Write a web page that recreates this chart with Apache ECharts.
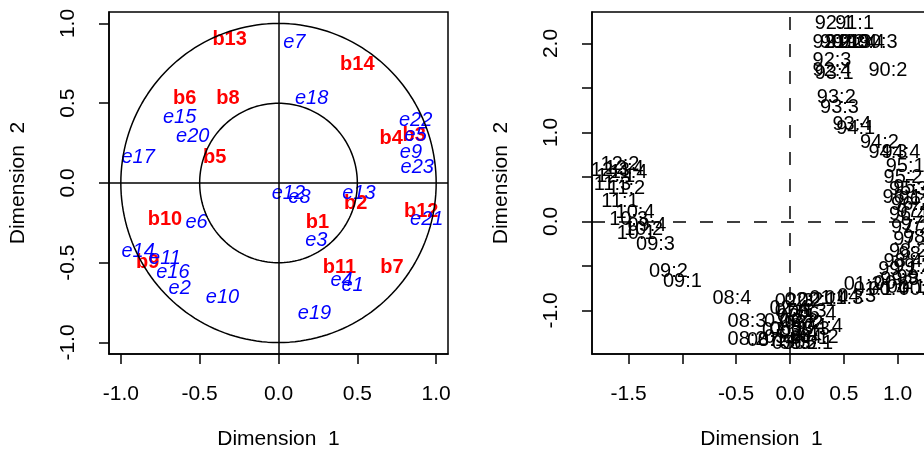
<!DOCTYPE html>
<html>
<head>
  <meta charset="UTF-8">
  <title>MCA</title>
  <style>
    html, body { margin: 0; padding: 0; background: #fff; overflow: hidden; }
    #main { width: 960px; height: 457px; }
  </style>
</head>
<body>
  <div id="main"></div>
</body>
<script src="https://cdn.jsdelivr.net/npm/echarts@6/dist/echarts.min.js"></script>
<script>
  const FONT = '"Liberation Sans", Arial, sans-serif'

  // left panel: variables on the correlation circle
  const bNames = ['b1', 'b2', 'b3', 'b4', 'b5', 'b6', 'b7', 'b8', 'b9', 'b10', 'b11', 'b12', 'b13', 'b14']
  const bX = [0.247, 0.49, 0.86, 0.715, -0.405, -0.595, 0.72, -0.32, -0.83, -0.72, 0.386, 0.905, -0.31, 0.50]
  const bY = [-0.25, -0.13, 0.30, 0.28, 0.157, 0.527, -0.527, 0.527, -0.50, -0.226, -0.527, -0.18, 0.90, 0.74]

  const eNames = ['e1', 'e2', 'e3', 'e4', 'e5', 'e6', 'e7', 'e8', 'e9', 'e10', 'e11', 'e12',
    'e13', 'e14', 'e15', 'e16', 'e17', 'e18', 'e19', 'e20', 'e21', 'e22', 'e23']
  const eX = [0.47, -0.627, 0.24, 0.40, 0.87, -0.52, 0.10, 0.133, 0.84, -0.355, -0.72, 0.063,
    0.51, -0.89, -0.627, -0.67, -0.89, 0.21, 0.228, -0.544, 0.94, 0.87, 0.88]
  const eY = [-0.645, -0.66, -0.357, -0.61, 0.30, -0.25, 0.88, -0.088, 0.19, -0.715, -0.47, -0.063,
    -0.063, -0.43, 0.41, -0.56, 0.16, 0.53, -0.815, 0.29, -0.23, 0.39, 0.10]

  const circleRadii = [1, 0.5]
  const leftTicks = [-1, -0.5, 0, 0.5, 1]

  // right panel: individuals (quarters)
  const indNames = [
    '90:1', '90:2', '90:3', '90:4', '91:1', '91:2', '91:3', '91:4',
    '92:1', '92:2', '92:3', '92:4', '93:1', '93:2', '93:3', '93:4',
    '94:1', '94:2', '94:3', '94:4', '95:1', '95:2', '95:3', '95:4',
    '96:1', '96:2', '96:3', '96:4', '97:1', '97:2', '97:3', '97:4',
    '98:1', '98:2', '98:3', '98:4', '99:1', '99:2', '99:3', '99:4',
    '00:1', '00:2', '00:3', '00:4', '01:1', '01:2', '01:3', '01:4',
    '02:1', '02:2', '02:3', '02:4', '03:1', '03:2', '03:3', '03:4',
    '04:1', '04:2', '04:3', '04:4', '05:1', '05:2', '05:3', '05:4',
    '06:1', '06:2', '06:3', '06:4', '07:1', '07:2', '07:3', '07:4',
    '08:1', '08:2', '08:3', '08:4', '09:1', '09:2', '09:3', '09:4',
    '10:1', '10:2', '10:3', '10:4', '11:1', '11:2', '11:3', '11:4',
    '12:1', '12:2', '12:3', '12:4'
  ]
  const indX = [
    0.46, 0.91, 0.82, 0.70, 0.60, 0.51, 0.575, 0.63,
    0.41, 0.39, 0.39, 0.39, 0.41, 0.43, 0.46, 0.575,
    0.61, 0.83, 0.91, 1.03, 1.07, 1.05, 1.10, 1.14,
    1.04, 1.12, 1.19, 1.10, 1.17, 1.12, 1.21, 1.14,
    1.23, 1.10, 1.19, 1.05, 1.00, 1.14, 1.02, 1.17,
    1.08, 0.96, 1.19, 0.91, 0.77, 0.68, 0.50, 0.36,
    0.25, 0.13, 0.04, -0.01, 0.06, 0.13, 0.19, 0.08,
    0.18, 0.27, 0.62, 0.31, 0.22, 0.08, 0.01, -0.06,
    -0.01, 0.08, 0.16, 0.25, 0.04, -0.06, -0.08, -0.12,
    -0.22, -0.40, -0.40, -0.54, -1.00, -1.13, -1.25, -1.33,
    -1.43, -1.36, -1.50, -1.44, -1.58, -1.52, -1.65, -1.50,
    -1.62, -1.58, -1.67, -1.54
  ]
  const indY = [
    2.01, 1.70, 2.01, 2.01, 2.22, 2.01, 2.01, 2.01,
    2.22, 2.01, 1.81, 1.70, 1.66, 1.39, 1.28, 1.09,
    1.05, 0.89, 0.78, 0.77, 0.62, 0.49, 0.36, 0.38,
    0.27, 0.19, 0.25, 0.08, 0.11, -0.07, -0.03, -0.20,
    -0.18, -0.34, -0.37, -0.45, -0.54, -0.51, -0.65, -0.63,
    -0.74, -0.70, -0.76, -0.76, -0.76, -0.71, -0.87, -0.87,
    -0.89, -0.89, -0.90, -0.98, -1.07, -1.15, -1.21, -1.26,
    -1.32, -1.30, -0.84, -1.18, -1.37, -1.37, -1.37, -1.30,
    -1.21, -1.12, -1.01, -1.05, -1.01, -1.12, -1.23, -1.34,
    -1.34, -1.33, -1.13, -0.87, -0.67, -0.56, -0.26, -0.05,
    -0.13, -0.09, 0.02, 0.10, 0.22, 0.37, 0.42, 0.55,
    0.51, 0.64, 0.57, 0.60
  ]

  const rightXTicks = [-1.5, -1, -0.5, 0, 0.5, 1]
  const rightXLabels = [-1.5, -0.5, 0, 0.5, 1]
  const rightYTicks = [-1, -0.5, 0, 0.5, 1, 1.5, 2]
  const rightYLabels = [-1, 0, 1, 2]

  const myChart = echarts.init(document.getElementById('main'))

  function pts(xs, ys, names) {
    return xs.map((x, i) => ({ value: [x, ys[i]], name: names[i] }))
  }

  function circle(r) {
    let out = []
    for (let a = 0; a <= 360; a += 2) {
      let t = a * Math.PI / 180
      out.push([r * Math.cos(t), r * Math.sin(t)])
    }
    return out
  }

  function xAxisOf(idx, min, max, ticks, labels) {
    return {
      type: 'value', gridIndex: idx, min: min, max: max,
      name: 'Dimension  1', nameLocation: 'middle', nameGap: 75,
      nameTextStyle: { fontFamily: FONT, fontSize: 21, color: '#000' },
      axisLine: { show: true, onZero: false, lineStyle: { color: '#000', width: 1.5 } },
      axisTick: { show: true, inside: false, length: 10, customValues: ticks, lineStyle: { color: '#000', width: 1.5 } },
      axisLabel: { show: true, margin: 30, customValues: labels, fontFamily: FONT, fontSize: 21, color: '#000',
        formatter: v => v.toFixed(1) },
      splitLine: { show: false }
    }
  }

  function yAxisOf(idx, min, max, ticks, labels) {
    return {
      type: 'value', gridIndex: idx, min: min, max: max,
      name: 'Dimension  2', nameLocation: 'middle', nameGap: 80, nameRotate: 90,
      nameTextStyle: { fontFamily: FONT, fontSize: 21, color: '#000' },
      axisLine: { show: true, onZero: false, lineStyle: { color: '#000', width: 1.5 } },
      axisTick: { show: true, inside: false, length: 10, customValues: ticks, lineStyle: { color: '#000', width: 1.5 } },
      axisLabel: { show: true, margin: 30, rotate: 90, customValues: labels, fontFamily: FONT, fontSize: 21, color: '#000',
        formatter: v => v.toFixed(1) },
      splitLine: { show: false }
    }
  }

  function labelSeries(data, color, weight, style, xi) {
    return {
      type: 'scatter', xAxisIndex: xi, yAxisIndex: xi, silent: true,
      symbol: 'circle', symbolSize: 2, itemStyle: { color: 'rgba(0,0,0,0)', opacity: 1 },
      label: {
        show: true, position: 'inside', formatter: '{b}', opacity: 1,
        color: color, fontFamily: FONT, fontSize: 20, fontWeight: weight, fontStyle: style,
        align: 'center', verticalAlign: 'middle'
      },
      labelLayout: { hideOverlap: false },
      data: data
    }
  }

  let series = []

  circleRadii.forEach((r, i) => {
    series.push({
      type: 'line', xAxisIndex: 0, yAxisIndex: 0, silent: true,
      showSymbol: false, symbol: 'none',
      lineStyle: { color: '#000', width: 1.5 },
      data: circle(r),
      markLine: i === 0 ? {
        silent: true, symbol: ['none', 'none'], label: { show: false },
        lineStyle: { color: '#000', width: 1.5, type: 'solid' },
        data: [{ xAxis: 0 }, { yAxis: 0 }]
      } : undefined
    })
  })

  series.push(labelSeries(pts(bX, bY, bNames), '#ff0000', 'bold', 'normal', 0))
  series.push(labelSeries(pts(eX, eY, eNames), '#0000ff', 'normal', 'italic', 0))

  let right = labelSeries(pts(indX, indY, indNames), '#000', 'normal', 'normal', 1)
  right.markLine = {
    silent: true, symbol: ['none', 'none'], label: { show: false },
    lineStyle: { color: '#000', width: 1.5, type: [13, 14] },
    data: [{ xAxis: 0 }, { yAxis: 0 }]
  }
  series.push(right)

  myChart.setOption({
    backgroundColor: '#fff',
    animation: false,
    grid: [
      { left: 109, top: 12, width: 339, height: 342, show: true, borderColor: '#000', borderWidth: 1.5, backgroundColor: 'transparent' },
      { left: 592, top: 12, width: 339, height: 342, show: true, borderColor: '#000', borderWidth: 1.5, backgroundColor: 'transparent' }
    ],
    xAxis: [
      xAxisOf(0, -1.075, 1.075, leftTicks, leftTicks),
      xAxisOf(1, -1.84, 1.31, rightXTicks, rightXLabels)
    ],
    yAxis: [
      yAxisOf(0, -1.072, 1.072, leftTicks, leftTicks),
      yAxisOf(1, -1.49, 2.354, rightYTicks, rightYLabels)
    ],
    series: series
  })
</script>
</html>
